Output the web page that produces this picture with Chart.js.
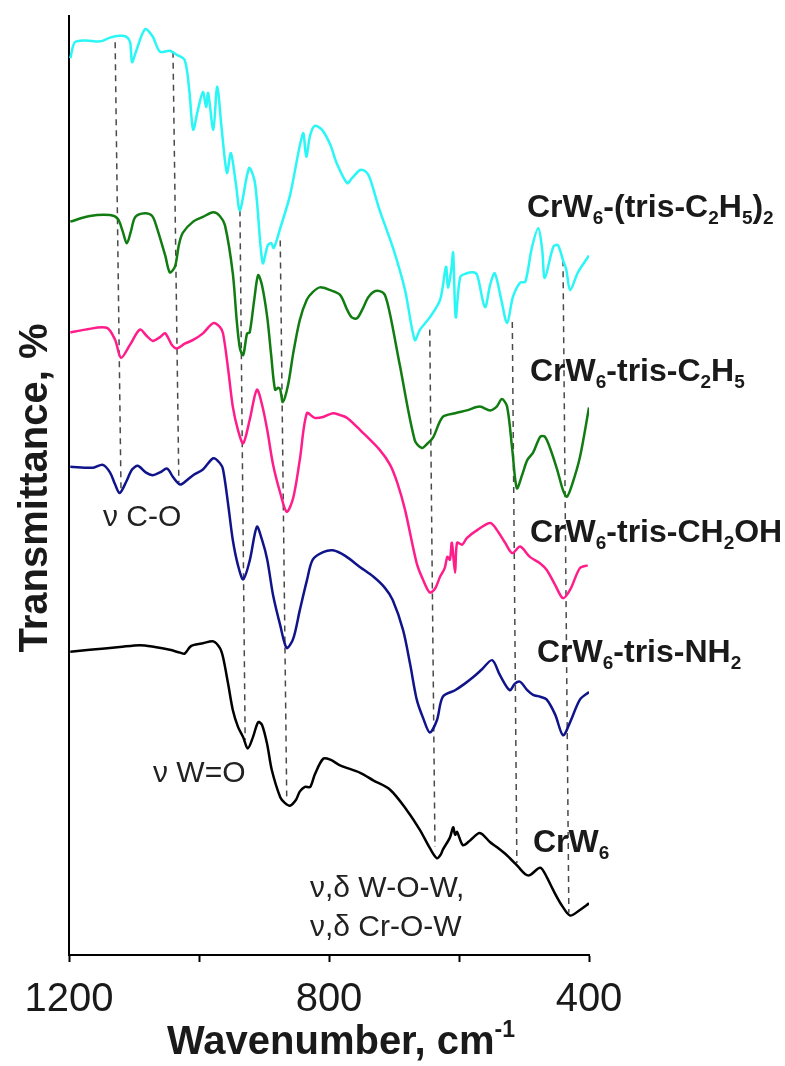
<!DOCTYPE html>
<html>
<head>
<meta charset="utf-8">
<script src="https://cdn.jsdelivr.net/npm/chart.js@4.4.1/dist/chart.umd.min.js"></script>
<style>
  html, body { margin: 0; padding: 0; background: #fff; }
  #wrap { width: 785px; height: 1066px; }
</style>
</head>
<body>
<div id="wrap"><canvas id="myChart" width="785" height="1066"></canvas></div>
<script>
// IR spectra, offset transmittance (a.u.) vs wavenumber (cm-1)
let wnC2H5x2 = [1198,1191,1175,1152,1137,1122,1112,1106,1103,1097,1083,1072,1060,1045,1035,1022,1015,1009,1002,994,989,986,978,972,965,957,951,943,937,923,915,911,902,894,889,885,875,860,840,835,829,822,811,798,788,772,765,752,743,737,722,702,683,668,660,645,629,620,617,612,609,605,598,588,578,572,560,552,545,535,526,517,506,498,488,478,472,468,455,448,440,435,429,417,400];
let tC2H5x2 = [95.5,97.2,97.4,97.3,97.7,97.9,97.8,97.2,95.1,96.2,98.6,97.9,96.2,96.3,95.9,95.3,92.1,87.9,89.9,91.9,90.3,91.8,87.9,92.5,87.9,83.3,85.4,82.0,79.3,83.8,82.6,80.4,73.7,75.6,75.8,75.3,77.4,80.9,87.5,85.0,87.3,88.3,87.9,86.3,84.3,82.2,82.7,83.6,83.4,82.7,79.3,75.4,70.8,65.5,66.6,67.9,69.8,73.3,71.1,72.9,74.8,67.9,72.2,72.6,72.7,72.4,69.0,71.4,72.6,69.8,67.3,70.1,71.6,71.7,75.3,77.4,75.1,72.1,75.4,75.6,74.0,73.0,70.8,72.7,74.5];

let wnC2H5 = [1198,1168,1137,1125,1118,1111,1105,1098,1083,1072,1065,1052,1045,1037,1031,1025,1009,994,978,968,960,948,942,937,932,926,922,915,909,903,895,889,883,878,875,871,863,855,845,834,825,814,798,783,772,765,757,749,740,732,722,714,706,691,668,657,648,640,625,606,588,568,552,542,534,526,518,511,503,495,486,475,468,460,449,440,434,426,414,400];
let tC2H5 = [78.1,78.7,78.8,78.4,77.2,75.8,77.0,78.6,79.0,78.7,77.5,74.5,72.7,73.3,75.6,76.9,78.1,78.6,79.1,78.7,77.7,72.6,67.6,64.6,63.9,66.2,66.3,69.8,72.4,71.3,67.9,63.9,60.2,60.4,60.2,58.9,60.7,64.1,67.6,69.8,70.6,71.1,70.8,70.3,68.7,67.9,67.8,68.7,70.0,70.6,70.7,70.3,68.2,62.8,54.8,54.0,54.5,55.1,57.3,57.7,58.0,58.4,58.0,58.4,59.2,58.4,53.8,49.7,51.1,52.7,53.5,55.2,55.2,54.0,51.7,49.5,48.8,50.1,53.0,58.3];

let wnCH2OH = [1198,1175,1142,1129,1120,1106,1091,1080,1071,1060,1052,1042,1034,1022,1009,994,978,968,963,955,948,940,932,922,911,903,895,886,875,865,855,845,834,822,809,794,783,772,752,722,706,695,683,665,655,645,637,629,622,618,614,611,606,603,595,588,571,552,542,529,518,506,491,475,465,452,440,429,414,402];
let tCH2OH = [66.3,66.6,66.8,65.5,63.6,65.0,66.6,65.9,65.4,65.8,66.2,65.0,64.6,65.1,65.5,66.2,67.3,66.9,66.2,62.3,58.4,55.9,54.5,57.0,60.2,58.6,55.9,52.2,49.2,47.2,48.7,52.7,57.7,57.2,57.3,57.7,57.5,57.2,55.9,53.8,52.2,50.3,47.4,41.7,39.9,38.6,39.0,40.3,41.2,42.4,42.1,43.9,40.7,43.9,43.7,44.4,45.3,46.0,45.3,43.9,42.8,43.5,42.4,41.7,41.0,39.4,38.0,38.9,41.2,41.5];

let wnNH2 = [1198,1163,1148,1137,1129,1122,1112,1103,1094,1082,1071,1060,1049,1040,1029,1018,1009,994,978,968,963,955,948,940,932,922,911,903,895,886,875,865,855,845,834,825,809,794,775,752,732,714,702,686,675,665,655,645,634,625,606,591,578,565,549,537,522,514,506,495,486,475,465,452,440,429,414,400];
let tNH2 = [52.0,51.9,52.2,51.4,50.1,49.2,50.4,51.7,52.1,51.4,51.1,51.4,51.8,50.9,50.1,50.6,51.1,51.7,52.9,52.4,51.7,47.9,44.2,41.5,40.0,42.0,45.6,44.2,42.1,38.3,35.1,32.7,33.7,36.7,39.9,42.1,42.9,43.1,42.5,41.3,40.3,39.1,37.8,34.6,30.9,27.2,25.2,23.7,25.0,27.5,28.2,28.9,29.6,30.4,31.4,29.8,28.2,28.9,29.1,28.2,27.7,27.5,27.2,25.6,23.4,24.8,27.2,28.0];

let wnCrW6 = [1198,1168,1122,1091,1068,1045,1029,1022,1014,1009,994,978,968,963,955,948,940,932,925,917,909,903,895,888,875,868,860,851,845,837,829,822,809,798,783,752,732,706,680,660,645,634,628,625,614,609,606,603,594,583,568,552,542,526,509,498,491,475,465,455,442,429,414,400];
let tCrW6 = [32.3,32.5,32.8,33.0,32.8,32.5,32.2,32.1,32.8,33.0,33.2,33.4,32.7,31.7,28.8,26.1,24.3,23.2,22.0,23.2,24.8,24.5,22.4,19.7,16.8,16.2,15.9,16.5,17.4,17.9,17.9,19.2,20.9,20.8,20.2,19.4,18.6,17.6,15.4,13.3,11.4,10.3,10.7,11.2,12.5,13.6,12.8,13.1,11.7,12.2,13.0,12.0,11.5,10.6,9.4,8.6,8.5,9.3,8.3,6.9,5.3,4.2,4.8,5.5];

// band guide lines: wavenumber at top / bottom, and their y span
let bandTopWn = [1129, 1040, 937, 875, 645, 518, 440];
let bandBotWn = [1120, 1031, 929, 865, 637, 511, 431];
let bandTopT = [97.2, 96.2, 79.3, 76.1, 66.6, 67.4, 74.0];
let bandBotT = [49.5, 50.3, 22.9, 16.5, 11.5, 9.8, 4.5];

let xTicks = [1200, 800, 400];

const FONT = "'Liberation Sans', Arial, Helvetica, sans-serif";

function pts(xs, ys) {
    return xs.map((x, i) => ({ x: x, y: ys[i] }));
}

function spectrum(label, xs, ys, color) {
    return {
        label: label,
        data: pts(xs, ys),
        borderColor: color,
        borderWidth: 2.5,
        pointRadius: 0,
        tension: 0.3,
        fill: false,
        order: 1,
    };
}

let datasets = [
    spectrum("CrW6-(tris-C2H5)2", wnC2H5x2, tC2H5x2, "#2af6f6"),
    spectrum("CrW6-tris-C2H5", wnC2H5, tC2H5, "#117c11"),
    spectrum("CrW6-tris-CH2OH", wnCH2OH, tCH2OH, "#ff1d8c"),
    spectrum("CrW6-tris-NH2", wnNH2, tNH2, "#10148a"),
    spectrum("CrW6", wnCrW6, tCrW6, "#000000"),
];

bandTopWn.forEach((w, i) => {
    datasets.push({
        label: "band" + i,
        data: [{ x: w, y: bandTopT[i] }, { x: bandBotWn[i], y: bandBotT[i] }],
        borderColor: "#4a4a4a",
        borderWidth: 1.5,
        borderDash: [6, 5],
        pointRadius: 0,
        tension: 0,
        fill: false,
        order: 2,
    });
});

// text drawn with sub/superscripts: parts are [text, "n" | "sub" | "sup"]
function drawRich(c, parts, x, y, size, weight) {
    let cx = x;
    parts.forEach(([txt, kind]) => {
        let s = kind === "n" ? size : Math.round(size * 0.58);
        let dy = kind === "sub" ? size * 0.22 : kind === "sup" ? -size * 0.42 : 0;
        c.font = weight + " " + s + "px " + FONT;
        c.fillText(txt, cx, y + dy);
        cx += c.measureText(txt).width;
    });
}

const sampleLabels = [
    { x: 527, y: 217, parts: [["CrW", "n"], ["6", "sub"], ["-(tris-C", "n"], ["2", "sub"], ["H", "n"], ["5", "sub"], [")", "n"], ["2", "sub"]] },
    { x: 530, y: 381, parts: [["CrW", "n"], ["6", "sub"], ["-tris-C", "n"], ["2", "sub"], ["H", "n"], ["5", "sub"]] },
    { x: 530, y: 542, parts: [["CrW", "n"], ["6", "sub"], ["-tris-CH", "n"], ["2", "sub"], ["OH", "n"]] },
    { x: 537, y: 662, parts: [["CrW", "n"], ["6", "sub"], ["-tris-NH", "n"], ["2", "sub"]] },
    { x: 533, y: 852, parts: [["CrW", "n"], ["6", "sub"]] },
];

const bandLabels = [
    { x: 103, y: 526, text: "ν C-O" },
    { x: 153, y: 782, text: "ν W=O" },
    { x: 310, y: 897, text: "ν,δ W-O-W," },
    { x: 310, y: 936, text: "ν,δ Cr-O-W" },
];

const textPlugin = {
    id: "texts",
    afterDraw(chart) {
        const c = chart.ctx;
        c.save();
        c.fillStyle = "#1a1a1a";
        c.textAlign = "left";
        c.textBaseline = "alphabetic";
        sampleLabels.forEach(l => drawRich(c, l.parts, l.x, l.y, 32, "bold"));

        c.fillStyle = "#222";
        c.font = "30px " + FONT;
        bandLabels.forEach(l => c.fillText(l.text, l.x, l.y));

        // axis titles
        c.fillStyle = "#1a1a1a";
        drawRich(c, [["Wavenumber, cm", "n"], ["-1", "sup"]], 167, 1054, 40, "bold");

        c.translate(47, 488);
        c.rotate(-Math.PI / 2);
        c.textAlign = "center";
        c.font = "bold 40px " + FONT;
        c.fillText("Transmittance, %", 0, 0);
        c.restore();
    },
};

let ctx = document.getElementById("myChart").getContext("2d");
let myChart = new Chart(ctx, {
    type: "line",
    data: { datasets: datasets },
    options: {
        responsive: false,
        animation: false,
        devicePixelRatio: 1,
        layout: { padding: { left: 0, right: 196, top: 16, bottom: 0 } },
        plugins: {
            legend: { display: false },
            tooltip: { enabled: false },
        },
        scales: {
            x: {
                type: "linear",
                min: 400,
                max: 1200,
                reverse: true,
                afterFit: (s) => { s.height = 111; },
                grid: {
                    drawOnChartArea: false,
                    drawTicks: true,
                    tickLength: 7,
                    tickWidth: 2,
                    tickColor: "#000",
                },
                border: { display: true, color: "#000", width: 2 },
                ticks: {
                    stepSize: 200,
                    padding: 14,
                    color: "#1a1a1a",
                    font: { family: FONT, size: 40 },
                    maxRotation: 0,
                    callback: (v) => (xTicks.includes(v) ? String(v) : ""),
                },
            },
            y: {
                type: "linear",
                min: 0,
                max: 100,
                afterFit: (s) => { s.width = 69; },
                grid: { display: false },
                border: { display: true, color: "#000", width: 2 },
                ticks: { display: false },
            },
        },
    },
    plugins: [textPlugin],
});
</script>
</body>
</html>
